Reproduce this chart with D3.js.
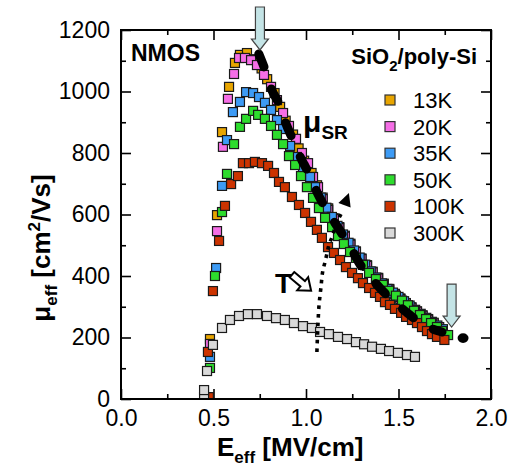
<!DOCTYPE html>
<html><head><meta charset="utf-8">
<script src="https://cdn.jsdelivr.net/npm/d3@7"></script>
<style>
body{margin:0;background:#fff;}
svg{display:block;font-family:"Liberation Sans",Arial,Helvetica,sans-serif;}
</style></head><body>
<svg id="chart" width="518" height="473"></svg>
<script>
// ---------- data ----------
const seriesNames  = ["13K","20K","35K","50K","100K","300K"];
const seriesColors = ["#E8A500","#F56EE6","#3D9BF5","#2DDC2D","#CC3300","#D9D9D9"];

const e13  = [0.481,0.519,0.546,0.584,0.616,0.643,0.681,0.72,0.76,0.79,0.83,0.86,0.89,0.93,0.96,0.99,1.03,1.06,1.09,1.12,1.15,1.18,1.21,1.24,1.27,1.30,1.33,1.36,1.39,1.42,1.45,1.48,1.51,1.54,1.57,1.60,1.63,1.66,1.69];
const mu13 = [195,598,868,1015,1093,1119,1125,1105,1075,1040,995,950,905,860,815,775,735,695,655,620,588,559,531,505,480,457,435,414,394,375,358,342,327,312,298,285,272,260,248];

const e20  = [0.481,0.519,0.551,0.578,0.611,0.638,0.670,0.703,0.735,0.773,0.811,0.843,0.876,0.908,0.946,0.978,1.011,1.038,1.065,1.09,1.12,1.15,1.18,1.21,1.24,1.27,1.30,1.33,1.36,1.39,1.42,1.45,1.48,1.51,1.54,1.57,1.60,1.63,1.66,1.69,1.72];
const mu20 = [179,546,820,976,1057,1109,1109,1102,1086,1054,1015,972,930,888,846,800,767,722,689,650,615,585,556,528,502,478,455,433,412,392,374,356,340,325,311,297,284,271,258,246,234];

const e35  = [0.481,0.514,0.546,0.573,0.605,0.643,0.676,0.714,0.746,0.778,0.811,0.843,0.876,0.914,0.951,0.984,1.022,1.049,1.08,1.11,1.14,1.17,1.20,1.23,1.26,1.29,1.32,1.35,1.38,1.41,1.44,1.47,1.50,1.53,1.56,1.59,1.62,1.65,1.68,1.71,1.74];
const mu35 = [137,426,693,842,933,966,998,995,982,963,940,907,878,823,787,754,722,689,655,622,592,563,535,508,483,460,437,415,395,376,358,346,332,318,304,290,277,264,251,239,227];

const e50  = [0.468,0.481,0.508,0.546,0.573,0.611,0.643,0.676,0.714,0.741,0.778,0.811,0.843,0.876,0.908,0.941,0.973,1.005,1.038,1.070,1.103,1.141,1.173,1.205,1.238,1.270,1.308,1.341,1.378,1.416,1.449,1.486,1.519,1.551,1.584,1.616,1.649,1.676,1.708,1.735,1.768];
const mu50 = [5,101,400,608,732,829,885,911,937,924,911,888,859,829,790,761,725,689,654,621,589,559,530,504,478,459,436,410,390,371,352,336,320,305,287,273,260,247,234,221,208];

const e100  = [0.475,0.470,0.497,0.530,0.562,0.595,0.632,0.659,0.692,0.724,0.762,0.795,0.827,0.854,0.886,0.924,0.962,0.995,1.027,1.059,1.086,1.119,1.151,1.184,1.216,1.249,1.281,1.308,1.341,1.373,1.400,1.427,1.454,1.481,1.514,1.541,1.573,1.600,1.627,1.654,1.681,1.708,1.748];
const mu100 = [6,153,351,514,628,699,725,767,767,771,767,758,735,706,689,657,631,605,576,550,524,494,475,452,429,410,393,377,361,345,332,315,306,293,280,267,257,247,234,221,211,202,192];

const e300  = [0.449,0.449,0.465,0.497,0.546,0.589,0.638,0.686,0.735,0.789,0.838,0.886,0.935,0.984,1.032,1.076,1.124,1.173,1.222,1.270,1.314,1.357,1.405,1.449,1.497,1.546,1.589];
const mu300 = [6,29,91,176,231,257,270,276,276,270,263,257,247,237,231,218,211,202,195,185,178,170,163,156,150,143,137];

const seriesE  = [e13,e20,e35,e50,e100,e300];
const seriesMu = [mu13,mu20,mu35,mu50,mu100,mu300];

// universal mobility (mu_SR) curve
const srE  = [0.745,0.78,0.81,0.86,0.89,0.93,0.97,1.02,1.06,1.12,1.17,1.24,1.29,1.36,1.45,1.54,1.63,1.735];
const srMu = [1122,1068,1012,952,898,842,786,728,672,607,560,494,440,388,330,284,243,218];
const srDotE = [1.849], srDotMu = [198];

// temperature trend (dotted arrow)
const tE  = [1.059,1.065,1.070,1.081,1.092,1.103,1.114,1.124,1.141,1.157,1.173,1.195];
const tMu = [153,247,302,364,420,446,475,501,527,556,582,608];
const tTipE = 1.232, tTipMu = 670;

// blue marker arrows (tip positions)
const markE  = [0.751,1.787];
const markMu = [1135,234];

const xTicks = [0,0.5,1.0,1.5,2.0];
const xMinor = [0.25,0.75,1.25,1.75];
const yTicks = [0,200,400,600,800,1000,1200];
const yMinor = [100,300,500,700,900,1100];

// ---------- drawing ----------
const svg = d3.select("#chart");
const FONT = '"Liberation Sans",Arial,Helvetica,sans-serif';
const L=121, R=491, T=30, B=399;
const x = d3.scaleLinear().domain([0,2]).range([L,R]);
const y = d3.scaleLinear().domain([0,1200]).range([B,T]);

svg.append("defs").append("clipPath").attr("id","clip")
  .append("rect").attr("x",L).attr("y",T).attr("width",R-L).attr("height",B-T);

function styleAxis(g){
  g.attr("font-family",FONT).attr("font-size",23);
  g.select(".domain").remove();
  g.selectAll(".tick line").attr("stroke","#000").attr("stroke-width",1.6);
  g.selectAll(".tick text").attr("fill","#000");
}
// major axes
svg.append("g").attr("transform",`translate(0,${B})`)
  .call(d3.axisBottom(x).tickValues(xTicks).tickSize(-10).tickPadding(11).tickFormat(d3.format(".1f"))).call(styleAxis);
svg.append("g").attr("transform",`translate(${L},0)`)
  .call(d3.axisLeft(y).tickValues(yTicks).tickSize(-10).tickPadding(11).tickFormat(d3.format("d"))).call(styleAxis);
svg.append("g").attr("transform",`translate(0,${T})`)
  .call(d3.axisTop(x).tickValues(xTicks).tickSize(-10).tickFormat("")).call(styleAxis);
svg.append("g").attr("transform",`translate(${R},0)`)
  .call(d3.axisRight(y).tickValues(yTicks).tickSize(-10).tickFormat("")).call(styleAxis);
// minor
svg.append("g").attr("transform",`translate(0,${B})`)
  .call(d3.axisBottom(x).tickValues(xMinor).tickSize(-5).tickFormat("")).call(styleAxis);
svg.append("g").attr("transform",`translate(${L},0)`)
  .call(d3.axisLeft(y).tickValues(yMinor).tickSize(-5).tickFormat("")).call(styleAxis);
svg.append("g").attr("transform",`translate(0,${T})`)
  .call(d3.axisTop(x).tickValues(xMinor).tickSize(-5).tickFormat("")).call(styleAxis);
svg.append("g").attr("transform",`translate(${R},0)`)
  .call(d3.axisRight(y).tickValues(yMinor).tickSize(-5).tickFormat("")).call(styleAxis);

// markers
const MS = 9;
const mg = svg.append("g").attr("clip-path","url(#clip)");
seriesNames.forEach((name,i)=>{
  const pts = seriesE[i].map((e,j)=>({e, m: seriesMu[i][j]}));
  mg.append("g").selectAll("rect").data(pts).join("rect")
    .attr("x",d=>x(d.e)-MS/2).attr("y",d=>y(d.m)-MS/2)
    .attr("width",MS).attr("height",MS)
    .attr("fill",seriesColors[i]).attr("stroke","#1a1a1a").attr("stroke-width",1.2);
});

// frame
svg.append("rect").attr("x",L).attr("y",T).attr("width",R-L).attr("height",B-T)
  .attr("fill","none").attr("stroke","#000").attr("stroke-width",2);

// mu_SR dashed line
const srLine = d3.line().x((d,i)=>x(srE[i])).y((d,i)=>y(srMu[i])).curve(d3.curveMonotoneX);
svg.append("path").attr("d",srLine(srE)).attr("fill","none").attr("stroke","#000")
  .attr("stroke-width",9).attr("stroke-linecap","round").attr("stroke-dasharray","14,23");
svg.selectAll(".srdot").data(srDotE).join("ellipse").attr("class","srdot")
  .attr("cx",(d,i)=>x(d)).attr("cy",(d,i)=>y(srDotMu[i])).attr("rx",5.5).attr("ry",4.8).attr("fill","#000");

// temperature dotted arrow
const tLine = d3.line().x((d,i)=>x(tE[i])).y((d,i)=>y(tMu[i])).curve(d3.curveMonotoneY);
svg.append("path").attr("d",tLine(tE)).attr("fill","none").attr("stroke","#000")
  .attr("stroke-width",3.6).attr("stroke-dasharray","3.6,5");
{
  const tx=x(tTipE), ty=y(tTipMu);
  const bx=x(tE[tE.length-1]), by=y(tMu[tMu.length-1]);
  let dx=tx-bx, dy=ty-by; const len=Math.hypot(dx,dy); dx/=len; dy/=len;
  const hl=13, hw=6.5;
  const cx=tx-dx*hl, cy=ty-dy*hl;
  svg.append("path").attr("d",`M${tx},${ty}L${cx-dy*hw},${cy+dx*hw}L${cx+dy*hw},${cy-dx*hw}Z`).attr("fill","#000");
}

// T label and hollow arrow
svg.append("text").attr("x",x(0.832)).attr("y",y(345)).attr("font-size",28).attr("font-weight","bold")
  .attr("font-family",FONT).text("T");
svg.append("path")
  .attr("transform",`translate(${x(0.978)},${y(377)}) rotate(40)`)
  .attr("d","M-13,-3.5L1,-3.5L1,-8.5L12,0L1,8.5L1,3.5L-13,3.5Z")
  .attr("fill","#fff").attr("stroke","#000").attr("stroke-width",2).attr("stroke-linejoin","miter");

// mu_SR label
const srT = svg.append("text").attr("x",x(0.984)).attr("y",y(868)).attr("font-family",FONT).attr("font-weight","bold");
srT.append("tspan").attr("font-size",30).text("μ");
srT.append("tspan").attr("font-size",19).attr("dy",7).text("SR");

// NMOS & SiO2/poly-Si
svg.append("text").attr("x",131).attr("y",61).attr("font-size",23).attr("font-weight","bold")
  .attr("font-family",FONT).text("NMOS");
const st = svg.append("text").attr("x",477).attr("y",64).attr("text-anchor","end")
  .attr("font-size",22).attr("font-weight","bold").attr("font-family",FONT);
st.append("tspan").text("SiO");
st.append("tspan").attr("font-size",15).attr("dy",7).text("2");
st.append("tspan").attr("dy",-7).text("/poly-Si");

// legend
const lg = svg.append("g");
seriesNames.forEach((name,i)=>{
  const ly = 100 + i*26.6;
  lg.append("rect").attr("x",385).attr("y",ly-5).attr("width",10).attr("height",10)
    .attr("fill",seriesColors[i]).attr("stroke","#333").attr("stroke-width",1.2);
  lg.append("text").attr("x",413).attr("y",ly+8).attr("font-size",22).attr("font-family",FONT).text(name);
});

// axis titles
const xl = svg.append("text").attr("x",217).attr("y",456).attr("font-size",26).attr("font-weight","bold").attr("font-family",FONT);
xl.append("tspan").text("E");
xl.append("tspan").attr("font-size",17).attr("dy",7).text("eff");
xl.append("tspan").attr("dy",-7).text(" [MV/cm]");

const yl = svg.append("text").attr("transform","translate(50,248) rotate(-90)").attr("text-anchor","middle")
  .attr("font-size",26).attr("font-weight","bold").attr("font-family",FONT);
yl.append("tspan").text("μ");
yl.append("tspan").attr("font-size",17).attr("dy",7).text("eff");
yl.append("tspan").attr("dy",-7).text(" [cm");
yl.append("tspan").attr("font-size",17).attr("dy",-10).text("2");
yl.append("tspan").attr("dy",10).text("/Vs]");

// blue marker arrows
svg.selectAll(".mark").data(markE).join("path").attr("class","mark")
  .attr("d",(d,i)=>{const tx=x(d), ty=y(markMu[i]);
    return `M${tx-4.5},${ty-43}L${tx+4.5},${ty-43}L${tx+4.5},${ty-11}L${tx+8.5},${ty-11}L${tx},${ty}L${tx-8.5},${ty-11}L${tx-4.5},${ty-11}Z`;})
  .attr("fill","#C4E4E6").attr("stroke","#444").attr("stroke-width",1.2);
</script>
</body></html>
